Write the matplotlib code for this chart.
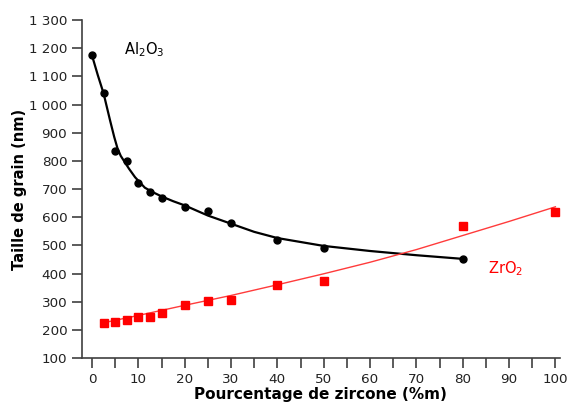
import matplotlib
matplotlib.use("Agg")
import matplotlib.pyplot as plt
from matplotlib.ticker import MultipleLocator, FuncFormatter

# points mesurés
x_al = [0, 2.5, 5, 7.5, 10, 12.5, 15, 20, 25, 30, 40, 50, 80]
y_al = [1175, 1040, 835, 800, 720, 690, 670, 635, 622, 580, 520, 492, 452]
x_zr = [2.5, 5, 7.5, 10, 12.5, 15, 20, 25, 30, 40, 50, 80, 100]
y_zr = [225, 228, 235, 245, 245, 260, 288, 302, 307, 358, 373, 568, 618]

# courbes de tendance
fit_al_x = [0, 1.25, 2.5, 3.9, 4.8, 5.5, 6.2, 6.9, 8, 9.3, 11.4, 13, 15, 17.5, 20, 25, 30, 35, 40, 50, 60, 70, 80]
fit_al_y = [1175, 1105, 1040, 944, 885, 845, 818, 800, 772, 742, 705, 690, 674, 657, 642, 606, 577, 548, 526, 498, 480, 465, 452]
fit_zr_x = [2.5, 10, 20, 30, 40, 50, 60, 70, 80, 90, 100]
fit_zr_y = [225, 251, 287, 322, 360, 399, 440, 485, 535, 585, 637]

fig = plt.figure(figsize=(5.68, 4.04), dpi=100)
ax = fig.add_axes([0.144, 0.114, 0.842, 0.836])

ax.plot(fit_al_x, fit_al_y, color="black", lw=1.6)
ax.plot(x_al, y_al, "o", color="black", ms=5)
ax.plot(fit_zr_x, fit_zr_y, color="#ff3b3b", lw=1.0)
ax.plot(x_zr, y_zr, "s", color="#ff0000", ms=6)

ax.text(7.0, 1195, r"Al$_2$O$_3$", fontsize=10.5, va="center")
ax.text(85.5, 417, r"ZrO$_2$", fontsize=10.5, va="center", color="#ff0000")

ax.set_xlim(-2.2, 101)
ax.set_ylim(100, 1300)
ax.xaxis.set_major_locator(MultipleLocator(10))
ax.xaxis.set_minor_locator(MultipleLocator(5))
ax.yaxis.set_major_locator(MultipleLocator(100))
ax.yaxis.set_major_formatter(FuncFormatter(lambda v, p: f"{int(v):,}".replace(",", " ")))

for s in ["top", "right"]:
    ax.spines[s].set_visible(False)
for s in ["left", "bottom"]:
    ax.spines[s].set_color("#404040")
    ax.spines[s].set_linewidth(1.2)
ax.tick_params(which="both", direction="out", length=7, width=1.2, color="#404040",
               labelsize=9.7, labelcolor="#222222")

ax.set_xlabel("Pourcentage de zircone (%m)", fontsize=11, fontweight="bold", labelpad=1)
ax.set_ylabel("Taille de grain (nm)", fontsize=10.5, fontweight="bold", labelpad=1)

fig.savefig("out.png", dpi=100)
